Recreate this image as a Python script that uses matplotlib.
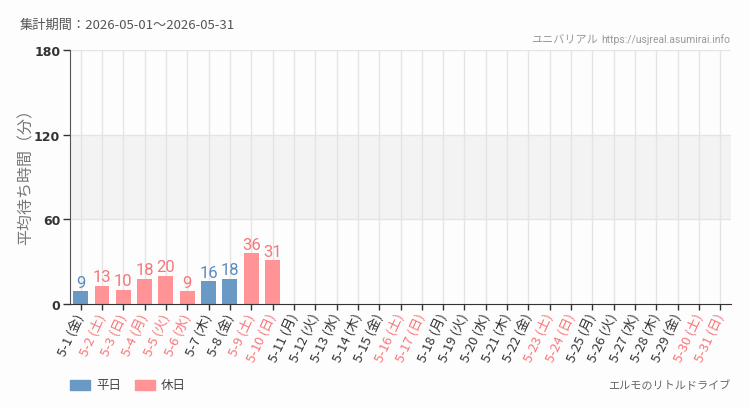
import matplotlib
matplotlib.use("Agg")
import matplotlib.pyplot as plt
from matplotlib.patches import Rectangle
import numpy as np

plt.rcParams['font.family'] = ['Noto Sans CJK JP', 'DejaVu Sans']

days = list(range(1, 32))
weekdays = ["金", "土", "日", "月", "火", "水", "木", "金", "土", "日", "月", "火", "水", "木", "金",
            "土", "日", "月", "火", "水", "木", "金", "土", "日", "月", "火", "水", "木", "金", "土", "日"]
holiday = [False, True, True, True, True, True, False, False, True, True, False, False, False, False, False,
           True, True, False, False, False, False, False, True, True, False, False, False, False, False, True, True]
values = [9, 13, 10, 18, 20, 9, 16, 18, 36, 31] + [None] * 21

labels = [f"5-{d} ({w})" for d, w in zip(days, weekdays)]

BLUE = "#6b99c6"
PINK = "#ff9396"
BLUE_T = "#5b8cc0"
PINK_T = "#f7767b"

fig = plt.figure(figsize=(7.5, 4.1), dpi=100, facecolor="#fcfdfc")
ax = fig.add_axes([70/750, 1-305/410, 661/750, 254/410])
ax.set_facecolor("#fcfdfc")

x = np.arange(len(days))
ax.set_xlim(-0.5, len(days) - 0.5)
ax.set_ylim(0, 180)

ax.axhspan(60, 120, color="#f3f3f3", zorder=0, lw=0)
for xi in x:
    ax.axvline(xi, color="#e4e4e4", lw=1, zorder=1)
for yv in [60, 120, 180]:
    ax.axhline(yv, color="#e4e4e4", lw=1, zorder=1)

for xi, v, h in zip(x, values, holiday):
    if v is None:
        continue
    ax.bar(xi, v, width=0.7, color=PINK if h else BLUE, zorder=2)
    ax.text(xi, v + 1.2, str(v), ha="center", va="bottom", family=["Roboto", "DejaVu Sans"],
            fontsize=12, color=PINK_T if h else BLUE_T, zorder=3)

ax.set_yticks([0, 60, 120, 180])
ax.set_yticklabels(["0", "60", "120", "180"], fontsize=9, color="#333", weight="bold",
                   family=["DejaVu Sans"])
ax.set_xticks(x)
ax.set_xticklabels(labels, rotation=65, ha="right", va="center", rotation_mode="anchor",
                   fontsize=9.5)
for t, h in zip(ax.get_xticklabels(), holiday):
    t.set_color(PINK_T if h else "#333")

ax.tick_params(axis="y", length=5, width=1, color="#333", pad=2)
ax.tick_params(axis="x", length=4, width=1, color="#333", pad=3)

for s in ["top", "right"]:
    ax.spines[s].set_visible(False)
ax.spines["left"].set_color("#555")
ax.spines["bottom"].set_color("#333")

ax.set_ylabel("平均待ち時間（分）", fontsize=11.5, color="#777")
ax.yaxis.set_label_coords(-0.054, 0.52)

fig.text(20/750, 1-25/410, "集計期間：2026-05-01～2026-05-31", fontsize=9.5, color="#555",
         va="center", ha="left")
fig.text(730/750, 1-40/410, "https://usjreal.asumirai.info", family=["Roboto", "DejaVu Sans"],
         fontsize=7.5, color="#999", va="center", ha="right")
fig.text(598/750, 1-40/410, "ユニバリアル", fontsize=8, color="#999",
         va="center", ha="right")

# legend
fig.patches.append(Rectangle((70/750, 1-391/410), 20/750, 10/410, transform=fig.transFigure,
                             color=BLUE, figure=fig))
fig.text(96/750, 1-386/410, "平日", fontsize=9, color="#444", va="center", ha="left")
fig.patches.append(Rectangle((135/750, 1-391/410), 20/750, 10/410, transform=fig.transFigure,
                             color=PINK, figure=fig))
fig.text(161/750, 1-386/410, "休日", fontsize=9, color="#444", va="center", ha="left")

fig.text(730/750, 1-386/410, "エルモのリトルドライブ", fontsize=8, color="#666",
         va="center", ha="right")

fig.savefig("out.png", dpi=100, facecolor=fig.get_facecolor())
